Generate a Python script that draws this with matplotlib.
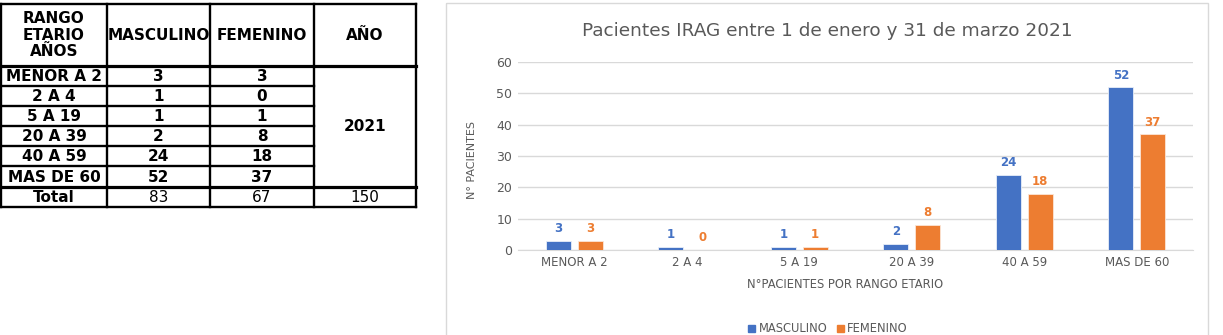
import numpy as np
import matplotlib.pyplot as plt
from matplotlib.patches import Rectangle, Patch

categories = ['MENOR A 2', '2 A 4', '5 A 19', '20 A 39', '40 A 59', 'MAS DE 60']
masculino = [3, 1, 1, 2, 24, 52]
femenino = [3, 0, 1, 8, 18, 37]
anio = '2021'

azul = '#4472C4'
naranja = '#ED7D31'
gris = '#595959'

W, H = 1223, 335
fig = plt.figure(figsize=(W / 100, H / 100), dpi=100)

# capa en pixeles para la tabla y el marco del grafico
capa = fig.add_axes([0, 0, 1, 1])
capa.set_xlim(0, W)
capa.set_ylim(H, 0)
capa.axis('off')

capa.add_patch(Rectangle((446, 3), 762, 340, fill=False, edgecolor='#D9D9D9', lw=1))

# tabla
cols = [1, 107, 210, 314, 416]
filas = [4, 66, 86, 106, 126, 146, 166, 187, 207]
for x in cols:
    capa.plot([x, x], [filas[0], filas[-1]], color='black', lw=1.7, solid_capstyle='projecting')
for i, y in enumerate(filas):
    x1 = cols[3] if 1 < i < 7 else cols[-1]
    lw = 2.3 if i in (1, 7) else 1.7
    capa.plot([cols[0], x1], [y, y], color='black', lw=lw, solid_capstyle='projecting')

def centro(c):
    return (cols[c] + cols[c + 1]) / 2

enc = ['RANGO\nETARIO\nAÑOS', 'MASCULINO', 'FEMENINO', 'AÑO']
for c, t in enumerate(enc):
    capa.text(centro(c), (filas[0] + filas[1]) / 2, t, ha='center', va='center',
              fontsize=11, fontweight='bold', linespacing=1.15)

for r, cat in enumerate(categories):
    ym = (filas[r + 1] + filas[r + 2]) / 2 + 0.5
    capa.text(centro(0), ym, cat, ha='center', va='center', fontsize=11, fontweight='bold')
    capa.text(centro(1), ym, str(masculino[r]), ha='center', va='center', fontsize=11, fontweight='bold')
    capa.text(centro(2), ym, str(femenino[r]), ha='center', va='center', fontsize=11, fontweight='bold')
capa.text(centro(3), (filas[1] + filas[7]) / 2, anio, ha='center', va='center',
          fontsize=11, fontweight='bold')

yt = (filas[7] + filas[8]) / 2 + 0.5
capa.text(centro(0), yt, 'Total', ha='center', va='center', fontsize=11, fontweight='bold')
capa.text(centro(1), yt, str(sum(masculino)), ha='center', va='center', fontsize=11)
capa.text(centro(2), yt, str(sum(femenino)), ha='center', va='center', fontsize=11)
capa.text(centro(3), yt, str(sum(masculino) + sum(femenino)), ha='center', va='center', fontsize=11)

# grafico de barras
ax = fig.add_axes([518 / W, 1 - 250 / H, (1193 - 518) / W, (250 - 62) / H])
x = np.arange(len(categories))
ancho = 0.222
b1 = ax.bar(x - 0.142, masculino, ancho, color=azul, edgecolor='#E8EEF8', lw=0.6, zorder=3)
b2 = ax.bar(x + 0.142, femenino, ancho, color=naranja, edgecolor='#FBE5D6', lw=0.6, zorder=3)
for barras, col in ((b1, azul), (b2, naranja)):
    for b in barras:
        ax.annotate(str(int(b.get_height())), (b.get_x() + b.get_width() / 2, b.get_height()),
                    xytext=(0, 4), textcoords='offset points', ha='center', va='bottom',
                    fontsize=8.5, fontweight='bold', color=col)

ax.set_xlim(-0.5, len(categories) - 0.5)
ax.set_ylim(0, 60)
ax.set_yticks(range(0, 61, 10))
ax.set_xticks(x)
ax.set_xticklabels(categories)
ax.grid(axis='y', color='#D9D9D9', lw=1, zorder=0)
for s in ax.spines.values():
    s.set_visible(False)
ax.spines['bottom'].set_visible(True)
ax.spines['bottom'].set_color('#D9D9D9')
ax.tick_params(length=0, colors=gris)
ax.tick_params(axis='y', pad=4, labelsize=9)
ax.tick_params(axis='x', pad=4, labelsize=8.5)
ax.set_facecolor('none')

fig.text(472 / W, 1 - 160 / H, 'N° PACIENTES', rotation=90, ha='center', va='center',
         fontsize=8, color=gris)
fig.text(827 / W, 1 - 31 / H, 'Pacientes IRAG entre 1 de enero y 31 de marzo 2021',
         ha='center', va='center', fontsize=13.3, color=gris)
fig.text(845 / W, 1 - 285 / H, 'N°PACIENTES POR RANGO ETARIO', ha='center', va='center',
         fontsize=8.3, color=gris)

fig.legend(handles=[Patch(color=azul, label='MASCULINO'), Patch(color=naranja, label='FEMENINO')],
           loc='center', bbox_to_anchor=(828 / W, 1 - 329 / H), ncol=2, frameon=False,
           fontsize=8.3, handlelength=0.6, handleheight=0.6, handletextpad=0.3,
           columnspacing=0.8, labelcolor=gris)

fig.savefig('out.png', dpi=100)
